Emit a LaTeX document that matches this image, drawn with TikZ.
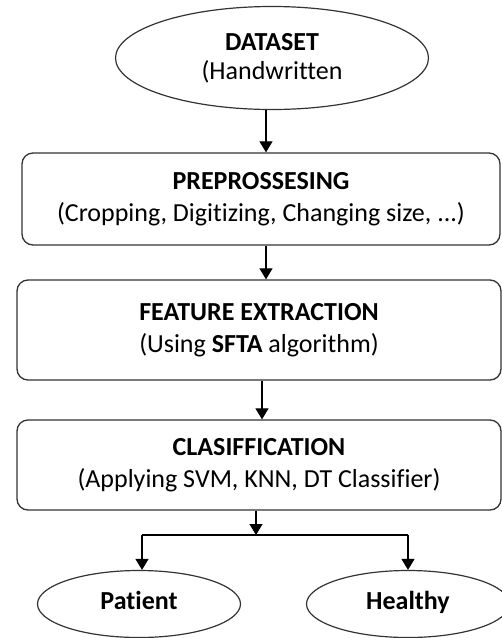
\documentclass[tikz,border=0pt]{standalone}
\usepackage{fontspec}
\setmainfont{Carlito}[Ligatures=NoCommon]
\usetikzlibrary{shapes.geometric,arrows.meta}

\begin{document}
\begin{tikzpicture}[x=1pt,y=-1pt,
  every node/.style={font=\fontsize{26}{32}\selectfont,align=center,inner sep=0pt},
  oval/.style={ellipse,draw=black!80,line width=1.2pt},
  result/.style={oval,minimum width=203pt,minimum height=67pt,text height=17pt,text depth=6pt},
  stage/.style={rectangle,rounded corners=11pt,draw=black!80,line width=1.3pt},
  arr/.style={line width=1.2pt,-{Triangle[width=13pt,length=11pt]}}]
\useasboundingbox (0,0) rectangle (502,638);
% start
\node[oval,minimum width=313pt,minimum height=103pt] (dataset) at (272,58) {\textbf{DATASET}\\[-3pt](Handwritten};
% stages
\node[stage,minimum width=478pt,minimum height=92pt] (pre) at (261,199) {\textbf{PREPROSSESING}\\(Cropping, Digitizing, Changing size, ...)};
\node[stage,minimum width=484pt,minimum height=100pt] (feat) at (259,330) {\textbf{FEATURE EXTRACTION}\\(Using \textbf{SFTA} algorithm)};
\node[stage,minimum width=484pt,minimum height=90pt] (cls) at (259,465) {\textbf{CLASIFFICATION}\\(Applying SVM, KNN, DT Classifier)};
% results
\node[result] (patient) at (139,604) {\textbf{Patient}};
\node[result] (healthy) at (408,604) {\textbf{Healthy}};
\coordinate (split) at (256,535);
\coordinate (lft) at (142,535);
\coordinate (rgt) at (408,535);
% connectors
\draw[arr] ([xshift=-6pt]dataset.south) -- ([xshift=5pt]pre.north);
\draw[arr] ([xshift=5pt]pre.south) -- ([xshift=7pt]feat.north);
\draw[arr] ([xshift=3pt]feat.south) -- ([xshift=3pt]cls.north);
\draw[arr] (cls.south -| split) -- (split);
\draw[line width=1.2pt] (lft) -- (rgt);
\draw[arr] (lft) -- (patient.north -| lft);
\draw[arr] (rgt) -- (healthy.north);
\end{tikzpicture}
\end{document}
